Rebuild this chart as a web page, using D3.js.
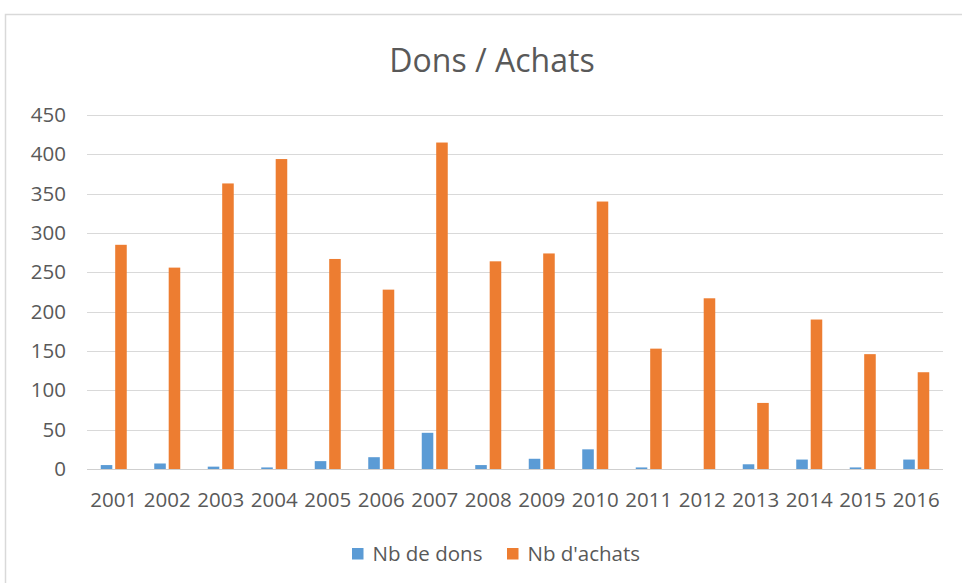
<!DOCTYPE html>
<html>
<head>
<meta charset="utf-8">
<script src="https://cdn.jsdelivr.net/npm/d3@7"></script>
<style>
  body { margin: 0; background: #fff; }
  svg { display: block; font-family: "Open Sans", sans-serif; }
</style>
</head>
<body>
<svg width="962" height="583"></svg>
<script>
// data
var years = ["2001","2002","2003","2004","2005","2006","2007","2008",
             "2009","2010","2011","2012","2013","2014","2015","2016"];
var dons = [5, 7, 3, 2, 10, 15, 46, 5, 13, 25, 2, 0, 6, 12, 2, 12];
var achats = [285, 256, 363, 394, 267, 228, 415, 264, 274, 340, 153, 217, 84, 190, 146, 123];
var seriesNames = ["Nb de dons", "Nb d'achats"];
var colours = ["#5b9bd5", "#ed7d31"];
var yTicks = [0, 50, 100, 150, 200, 250, 300, 350, 400, 450];

var svg = d3.select("svg");

// chart frame (only top and left edges show in the shot)
svg.append("rect")
  .attr("x", 5.5).attr("y", 14.5)
  .attr("width", 1000).attr("height", 1000)
  .attr("fill", "#fff")
  .attr("stroke", "#d9d9d9")
  .attr("stroke-width", 1.5);

var rows = years.map(function(y, i) {
  return { year: y, values: [dons[i], achats[i]] };
});

var x0 = d3.scaleBand()
  .domain(years)
  .range([87, 943])
  .paddingInner(0.514)
  .paddingOuter(0.257);

var x1 = d3.scaleBand()
  .domain([0, 1])
  .range([0, x0.bandwidth()])
  .paddingInner(0.2);

var y = d3.scaleLinear()
  .domain([0, 450])
  .range([469, 115]);

// gridlines
svg.append("g")
  .selectAll("line")
  .data(yTicks)
  .enter().append("line")
  .attr("x1", 87).attr("x2", 943)
  .attr("y1", d => Math.round(y(d)) + 0.5)
  .attr("y2", d => Math.round(y(d)) + 0.5)
  .attr("stroke", d => d === 0 ? "#cfcfcf" : "#d9d9d9")
  .attr("stroke-width", 1);

// y labels
svg.append("g")
  .selectAll("text")
  .data(yTicks)
  .enter().append("text")
  .attr("x", 66)
  .attr("y", d => y(d) + 7)
  .attr("text-anchor", "end")
  .attr("font-size", "20.5px")
  .attr("fill", "#595959")
  .text(d => d);

// bars
var group = svg.append("g")
  .selectAll("g")
  .data(rows)
  .enter().append("g")
  .attr("transform", d => "translate(" + x0(d.year) + ",0)");

group.selectAll("rect")
  .data(d => d.values)
  .enter().append("rect")
  .attr("x", (d, i) => x1(i))
  .attr("width", x1.bandwidth())
  .attr("y", d => y(d))
  .attr("height", d => y(0) - y(d))
  .attr("fill", (d, i) => colours[i]);

// x labels
svg.append("g")
  .selectAll("text")
  .data(years)
  .enter().append("text")
  .attr("x", d => x0(d) + x0.bandwidth() / 2)
  .attr("y", 507)
  .attr("text-anchor", "middle")
  .attr("font-size", "20.5px")
  .attr("fill", "#595959")
  .text(d => d);

// title
svg.append("text")
  .attr("x", 492)
  .attr("y", 72)
  .attr("text-anchor", "middle")
  .attr("font-size", "32px")
  .attr("fill", "#595959")
  .text("Dons / Achats");

// legend
var legendX = [352, 507];
var legend = svg.append("g")
  .selectAll("g")
  .data(seriesNames)
  .enter().append("g")
  .attr("transform", (d, i) => "translate(" + legendX[i] + ",548)");

legend.append("rect")
  .attr("width", 11.5).attr("height", 11.5)
  .attr("fill", (d, i) => colours[i]);

legend.append("text")
  .attr("x", 20.5)
  .attr("y", 13)
  .attr("font-size", "20.5px")
  .attr("fill", "#595959")
  .text(d => d);
</script>
</body>
</html>
